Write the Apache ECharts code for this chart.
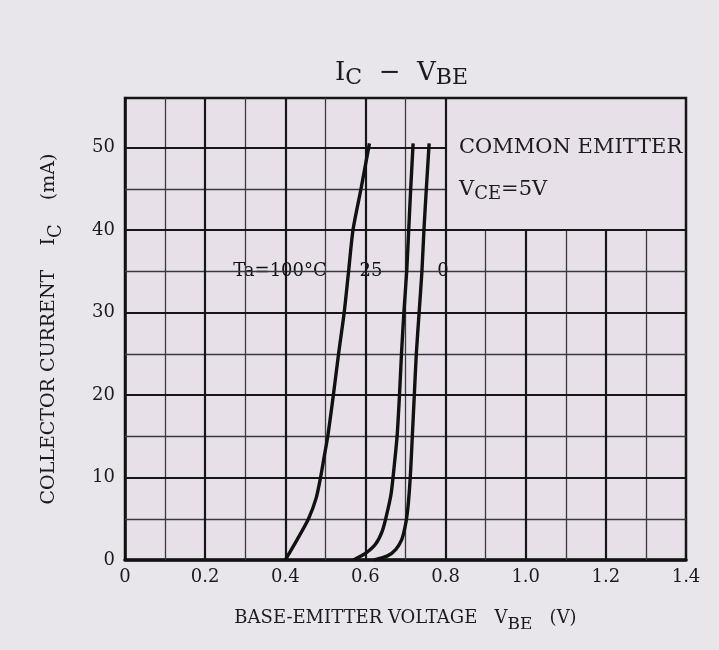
<!DOCTYPE html>
<html><head><meta charset="utf-8">
<script src="https://cdn.jsdelivr.net/npm/echarts@6/dist/echarts.min.js"></script>
<style>html,body{margin:0;padding:0;background:#e8e6ea;}#c{width:719px;height:650px;}</style>
</head><body><div id="c"></div>
<script>
// ---- data ----
const curveT100 = [[0.400,0],[0.430,2.5],[0.458,5],[0.477,7.5],[0.488,10],[0.497,12.5],[0.506,15],[0.520,20],[0.533,25],[0.547,30],[0.558,35],[0.569,40],[0.589,45],[0.610,50.5]];
const curveT25 = [[0.570,0],[0.600,0.8],[0.625,1.9],[0.642,3.5],[0.653,5.5],[0.664,8],[0.671,11],[0.679,15],[0.685,20],[0.690,25],[0.696,30],[0.703,35],[0.708,40],[0.713,45],[0.719,50.5]];
const curveT0 = [[0.622,0],[0.655,0.5],[0.676,1.3],[0.690,2.4],[0.698,3.8],[0.704,5.5],[0.709,8],[0.713,11],[0.717,15],[0.722,20],[0.727,25],[0.734,30],[0.741,35],[0.746,40],[0.752,45],[0.759,50.5]];
const curveLabels = [[0.386,35,'Ta=100°C'],[0.615,35,'25'],[0.793,35,'0']];
const xTickLabels = ['0','0.2','0.4','0.6','0.8','1.0','1.2','1.4'];
const yTickLabels = ['0','10','20','30','40','50'];
const xGridMinor = [0.1,0.3,0.5,0.7,0.9,1.1,1.3];
const xGridMajor = [0.2,0.4,0.6,0.8,1.0,1.2];
const yGridMinor = [5,15,25,35,45];
const yGridMajor = [10,20,30,40,50];

// ---- layout / style ----
const X_MAX = 1.4, Y_MAX = 56;
const BOX_X = 0.8, BOX_Y = 40; // note box region (no grid inside)
const FONT = 'DejaVu Serif';
const INK = '#1b1b1d';
const PLOT_BG = '#e7e0e9';

function vSeg(v){ return [{coord:[v,0]},{coord:[v, v > BOX_X + 1e-9 ? BOX_Y : Y_MAX]}]; }
function hSeg(y){ return [{coord:[0,y]},{coord:[y > BOX_Y + 1e-9 ? BOX_X : X_MAX, y]}]; }

const chart = echarts.init(document.getElementById('c'), null, {renderer:'canvas'});
const subRich = (m, s, pad) => ({
  m:{fontFamily:FONT,fontSize:m,fontWeight:'normal',color:INK,lineHeight:m+4,verticalAlign:'top'},
  s:{fontFamily:FONT,fontSize:s,fontWeight:'normal',color:INK,lineHeight:s+4,verticalAlign:'top',padding:[pad,0,0,0]}
});

const curveStyle = {type:'line', smooth:0.25, showSymbol:false, symbol:'none', z:5,
  lineStyle:{color:'#111',width:3.4}, silent:true};

chart.setOption({
  backgroundColor:'#e8e6ea',
  animation:false,
  title:[
    {left:330, top:55, text:'{m|I}{s|C}{m|  −  V}{s|BE}', textStyle:{fontWeight:'normal', rich:subRich(26,22,7)}},
    {left:454, top:132, text:'COMMON EMITTER', textStyle:{fontFamily:FONT,fontSize:21,fontWeight:'normal',color:INK}},
    {left:454, top:174, text:'{m|V}{s|CE}{m|=5V}', textStyle:{fontWeight:'normal', rich:subRich(21,18,6)}}
  ],
  grid:{left:125, right:33, top:98, bottom:90, show:true, backgroundColor:PLOT_BG, borderColor:'#161616', borderWidth:2.5},
  xAxis:{type:'value', min:0, max:X_MAX, interval:0.2,
    axisLine:{show:true, onZero:false, lineStyle:{color:'#111', width:3.5}},
    axisTick:{show:false}, splitLine:{show:false},
    axisLabel:{margin:8, fontFamily:FONT, fontSize:18, color:INK,
      formatter:v=>xTickLabels[Math.round(v/0.2)]},
    name:'{t|BASE-EMITTER VOLTAGE   V}{s|BE}{t|   (V)}', nameLocation:'middle', nameGap:49,
    nameTextStyle:{rich:{
      t:{fontFamily:FONT,fontSize:18,color:INK,lineHeight:22,verticalAlign:'top'},
      s:{fontFamily:FONT,fontSize:17,color:INK,lineHeight:21,verticalAlign:'top',padding:[7,0,0,0]}}}
  },
  yAxis:{type:'value', min:0, max:Y_MAX, interval:10,
    axisLine:{show:true, lineStyle:{color:'#111', width:2.5}},
    axisTick:{show:false}, splitLine:{show:false},
    axisLabel:{margin:10, fontFamily:FONT, fontSize:18, color:INK, showMaxLabel:false,
      formatter:v=>yTickLabels[Math.round(v/10)] ?? ''},
    name:'{t|COLLECTOR CURRENT    I}{s|C}{t|    (mA)}', nameLocation:'middle', nameGap:63, nameRotate:90,
    nameTextStyle:{rich:{
      t:{fontFamily:FONT,fontSize:19,color:INK,lineHeight:22,verticalAlign:'top'},
      s:{fontFamily:FONT,fontSize:18,color:INK,lineHeight:21,verticalAlign:'top',padding:[7,0,0,0]}}}
  },
  series:[
    {type:'line', data:[], z:1, silent:true,
      markLine:{silent:true, symbol:['none','none'], label:{show:false}, animation:false,
        lineStyle:{color:'#3a3a3e', width:1.3, type:'solid'},
        data:[...xGridMinor.map(vSeg), ...yGridMinor.map(hSeg)]}},
    {type:'line', data:[], z:2, silent:true,
      markLine:{silent:true, symbol:['none','none'], label:{show:false}, animation:false,
        lineStyle:{color:'#161618', width:2.2, type:'solid'},
        data:[...xGridMajor.map(vSeg), ...yGridMajor.map(hSeg)]}},
    {type:'custom', z:4, silent:true, data:curveLabels,
      renderItem:(params, api) => {
        const p = api.coord([api.value(0), api.value(1)]);
        return {type:'text', x:Math.round(p[0]), y:Math.round(p[1]), style:{
          text: curveLabels[params.dataIndex][2], fill:'#111', opacity:1,
          fontFamily:FONT, fontSize:18, fontWeight:'normal',
          align:'center', verticalAlign:'middle', backgroundColor:PLOT_BG, padding:[4,3,2,3]}};
      }},
    Object.assign({name:'100', data:curveT100}, curveStyle),
    Object.assign({name:'25', data:curveT25}, curveStyle),
    Object.assign({name:'0', data:curveT0}, curveStyle)
  ]
});
</script></body></html>
